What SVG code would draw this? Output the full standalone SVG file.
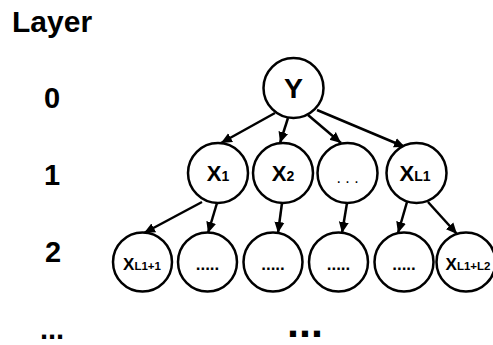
<svg xmlns="http://www.w3.org/2000/svg" width="493" height="345" viewBox="0 0 493 345">
<defs>
<marker id="ah" markerUnits="userSpaceOnUse" markerWidth="12" markerHeight="12" viewBox="0 0 12 12" refX="11" refY="6" orient="auto">
<path d="M0,1 L11,6 L0,11 Z" fill="#000"/>
</marker>
<style>
.n{fill:#fff;stroke:#000;stroke-width:2.5}
.e{stroke:#000;stroke-width:2.5;fill:none;marker-end:url(#ah)}
text{font-family:"Liberation Sans",Arial,sans-serif;font-weight:bold;fill:#000}
.big{font-size:22px}
.sub1{font-size:14px}
.x2{font-size:17px}
.sub2{font-size:11.5px}
.lab{font-size:29px}
</style>
</defs>
<g id="labels">
<text x="12" y="32" font-size="30">Layer</text>
<text class="lab" x="52" y="108" text-anchor="middle">0</text>
<text class="lab" x="52" y="185" text-anchor="middle">1</text>
<text class="lab" x="53" y="262" text-anchor="middle">2</text>
<text class="lab" x="52" y="339" text-anchor="middle">...</text>
<text x="305" y="337" font-size="43" text-anchor="middle">...</text>
</g>
<g id="connectors">
<line class="e" x1="275" y1="113" x2="221" y2="143"/>
<line class="e" x1="288" y1="118" x2="280" y2="143"/>
<line class="e" x1="308" y1="115" x2="341" y2="143"/>
<line class="e" x1="317" y1="110" x2="405" y2="147"/>
<line class="e" x1="202" y1="202" x2="144" y2="233"/>
<line class="e" x1="217" y1="203" x2="208" y2="233"/>
<line class="e" x1="282" y1="203" x2="278" y2="233"/>
<line class="e" x1="347" y1="203" x2="342" y2="233"/>
<line class="e" x1="407" y1="202" x2="398" y2="233"/>
<line class="e" x1="428" y1="202" x2="457" y2="234"/>
</g>
<g id="nY"><circle class="n" cx="293.5" cy="88" r="30"/><text x="293.5" y="98" font-size="28.5" text-anchor="middle">Y</text></g>
<g id="nX1"><circle class="n" cx="218" cy="173" r="30"/><text x="218" y="180.5" text-anchor="middle"><tspan class="big">X</tspan><tspan class="sub1">1</tspan></text></g>
<g id="nX2"><circle class="n" cx="283" cy="173" r="30"/><text x="283" y="180.5" text-anchor="middle"><tspan class="big">X</tspan><tspan class="sub1">2</tspan></text></g>
<g id="nDots1"><circle class="n" cx="347.5" cy="173" r="30"/><text x="347.5" y="183" font-size="16" style="font-weight:normal" text-anchor="middle">. . .</text></g>
<g id="nXL1"><circle class="n" cx="416.5" cy="173" r="30"/><text x="415" y="180.5" text-anchor="middle"><tspan class="big">X</tspan><tspan class="sub1">L1</tspan></text></g>
<g id="nXL11"><circle class="n" cx="142.5" cy="262" r="29.5"/><text x="142" y="270" text-anchor="middle"><tspan class="x2">X</tspan><tspan class="sub2">L1+1</tspan></text></g>
<g id="nD2"><circle class="n" cx="207.5" cy="262" r="29.5"/><text x="207.5" y="270" font-size="17" text-anchor="middle">.....</text></g>
<g id="nD3"><circle class="n" cx="273" cy="262" r="29.5"/><text x="273" y="270" font-size="17" text-anchor="middle">.....</text></g>
<g id="nD4"><circle class="n" cx="338.5" cy="262" r="29.5"/><text x="338.5" y="270" font-size="17" text-anchor="middle">.....</text></g>
<g id="nD5"><circle class="n" cx="404" cy="262" r="29.5"/><text x="404" y="270" font-size="17" text-anchor="middle">.....</text></g>
<g id="nXL1L2"><circle class="n" cx="466" cy="262" r="29.5"/><text x="468" y="270" text-anchor="middle"><tspan class="x2">X</tspan><tspan class="sub2">L1+L2</tspan></text></g>
</svg>
